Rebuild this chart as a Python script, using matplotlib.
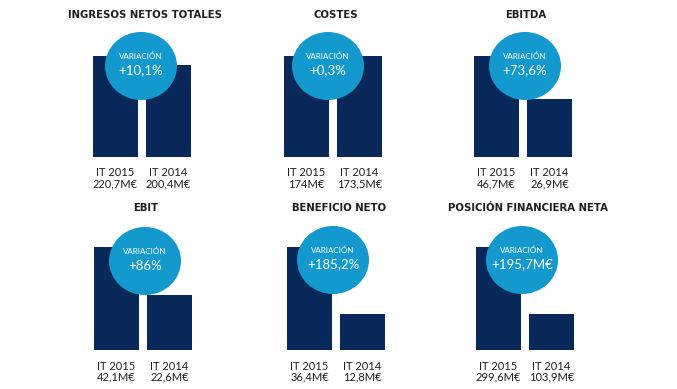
import matplotlib
matplotlib.use("Agg")
import matplotlib.pyplot as plt
from matplotlib.patches import Ellipse

plt.rcParams['font.family'] = ['Lato', 'DejaVu Sans']

# ---- data ----
titles = ["INGRESOS NETOS TOTALES", "COSTES", "EBITDA",
          "EBIT", "BENEFICIO NETO", "POSICIÓN FINANCIERA NETA"]
periods = ["IT 2015", "IT 2014"]
values_2015 = [220.7, 174.0, 46.7, 42.1, 36.4, 299.6]
values_2014 = [200.4, 173.5, 26.9, 22.6, 12.8, 103.9]
value_labels_2015 = ["220,7M€", "174M€", "46,7M€", "42,1M€", "36,4M€", "299,6M€"]
value_labels_2014 = ["200,4M€", "173,5M€", "26,9M€", "22,6M€", "12,8M€", "103,9M€"]
variations = ["+10,1%", "+0,3%", "+73,6%", "+86%", "+185,2%", "+195,7M€"]
variation_label = "VARIACIÓN"

# ---- layout (pixels) ----
W, H = 677, 389
DPI = 100
NAVY = "#0a295b"
CYAN = "#1399cd"
TEXT = "#1e1e1e"

# per panel: axes left px, axes top px, axes bottom px, circle center x px, circle center y px
layout = [
    (93, 56, 157, 141, 66),
    (284, 56, 157, 328, 66),
    (474, 56, 157, 525, 66),
    (94, 247, 350, 145, 261),
    (287, 247, 350, 333, 260),
    (476, 247, 350, 522, 260),
]
title_y = [15, 15, 15, 208, 208, 208]
bar_w_px, step_px = 45, 53
circ_w, circ_h = 72, 68

fig = plt.figure(figsize=(W / DPI, H / DPI), dpi=DPI)
fig.patch.set_facecolor("white")

for i in range(6):
    left, top, bottom, cx, cy = layout[i]
    wfrac = bar_w_px / step_px
    ax_w = step_px + bar_w_px
    ax_h = bottom - top
    ax = fig.add_axes([left / W, 1 - bottom / H, ax_w / W, ax_h / H])
    vals = [values_2015[i], values_2014[i]]
    ax.bar([0, 1], vals, width=wfrac, color=NAVY, zorder=1)
    ax.set_xlim(-wfrac / 2, 1 + wfrac / 2)
    ax.set_ylim(0, max(vals))
    ax.axis("off")

    # circle
    ex = (cx - left) / ax_w
    ey = (bottom - cy) / ax_h
    ell = Ellipse((ex, ey), circ_w / ax_w, circ_h / ax_h, transform=ax.transAxes,
                  facecolor=CYAN, edgecolor="none", zorder=3, clip_on=False)
    ax.add_patch(ell)
    ax.text(ex, ey + 9.5 / ax_h, variation_label, transform=ax.transAxes,
            ha="center", va="center", color="white", fontsize=5.8, zorder=4)
    ax.text(ex, ey - 4.5 / ax_h, variations[i], transform=ax.transAxes,
            ha="center", va="center", color="white", fontsize=9.5, zorder=4)

    # title
    fig.text((left + ax_w / 2 + 3) / W, 1 - title_y[i] / H, titles[i],
             ha="center", va="center", fontsize=7.3, fontweight="bold",
             color=TEXT, family=["DejaVu Sans"])

    # labels under bars
    labs = [value_labels_2015[i], value_labels_2014[i]]
    for j in range(2):
        bx = (j * step_px + bar_w_px / 2) / ax_w
        ax.text(bx, -16 / ax_h, periods[j], transform=ax.transAxes,
                ha="center", va="center", fontsize=8, color=TEXT, clip_on=False)
        ax.text(bx, -27 / ax_h, labs[j], transform=ax.transAxes,
                ha="center", va="center", fontsize=8, color=TEXT, clip_on=False)

fig.savefig("out.png", dpi=DPI, facecolor="white")
